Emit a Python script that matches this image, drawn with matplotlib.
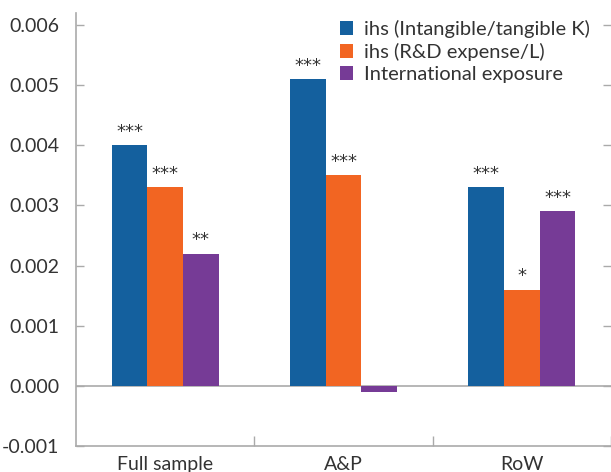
import numpy as np
import matplotlib.pyplot as plt

plt.rcParams['font.family'] = ['Lato', 'DejaVu Sans']

categories = ['Full sample', 'A&P', 'RoW']
series = ['ihs (Intangible/tangible K)', 'ihs (R&D expense/L)', 'International exposure']
intangible = [0.0040, 0.0051, 0.0033]
rnd = [0.0033, 0.0035, 0.0016]
intl = [0.0022, -0.0001, 0.0029]
stars = [['***', '***', '***'],
         ['***', '***', '*'],
         ['**', '', '***']]
colors = ['#14609e', '#f26522', '#763b96']

grey = '#aaaaaa'
txt = '#333333'

fig = plt.figure(figsize=(6.11, 4.72), dpi=100)
ax = fig.add_axes([76 / 611, 26 / 472, 535 / 611, 433 / 472])

x = np.arange(len(categories))
w = 0.2
for i, (vals, name) in enumerate(zip([intangible, rnd, intl], series)):
    pos = x + (i - 1) * w
    ax.bar(pos, vals, width=w, color=colors[i], label=name, zorder=2)
    for p, v, s in zip(pos, vals, stars[i]):
        if s:
            ax.annotate(s, (p, max(v, 0)), xytext=(0, 3), textcoords='offset points',
                        ha='center', va='bottom', fontsize=13, color=txt,
                        family='DejaVu Sans')

ax.axhline(0, color=grey, lw=1.2, zorder=1)
ax.set_xlim(-0.5, 2.5)
ax.set_ylim(-0.001, 0.0062)
ticks = np.arange(-0.001, 0.0061, 0.001)
ax.set_yticks(ticks)
ax.set_yticklabels(['%.3f' % v for v in ticks])
ax.set_xticks(x)
ax.set_xticklabels(categories)
ax.set_xticks([0.5, 1.5, 2.5], minor=True)

ax.tick_params(axis='x', which='major', length=0, labelsize=14,
               labelcolor=txt, pad=7)
ax.tick_params(axis='x', which='minor', direction='in', length=7,
               color=grey, width=1)
ax.tick_params(axis='y', direction='in', length=6, color=grey, width=1,
               labelsize=14, labelcolor=txt, right=True, pad=12)

for s in ['top', 'right']:
    ax.spines[s].set_visible(False)
for s in ['left', 'bottom']:
    ax.spines[s].set_color(grey)
    ax.spines[s].set_linewidth(1.2)

ax.legend(loc='upper left', bbox_to_anchor=(330 / 611, 1 - 10 / 472),
          bbox_transform=fig.transFigure, frameon=False, fontsize=14.5,
          handlelength=0.65, handleheight=0.65, handletextpad=0.55,
          labelspacing=0.25, borderpad=0, labelcolor=txt)

plt.savefig('out.png', dpi=100)
